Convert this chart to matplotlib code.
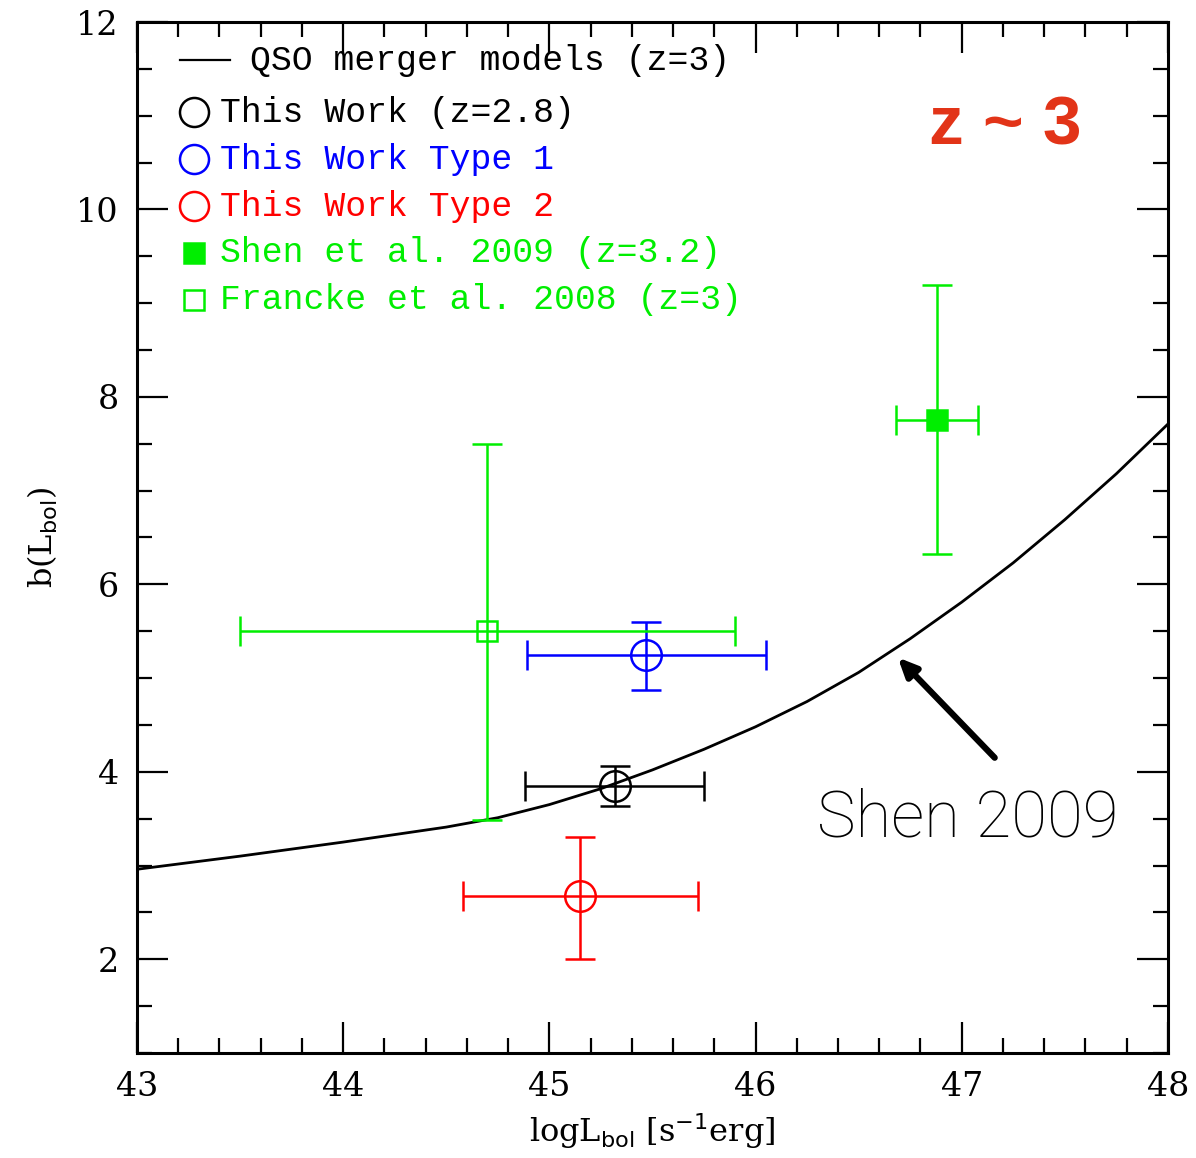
"""
b(L_bol) vs logL_bol at z~3
"""
import matplotlib
matplotlib.use('Agg')
import matplotlib.pyplot as plt
from matplotlib.ticker import MultipleLocator

# 모델 곡선 (QSO merger models, z=3)
model_x = [43.0, 43.5, 44.0, 44.5, 44.75, 45.0, 45.25, 45.5, 45.75,
           46.0, 46.25, 46.5, 46.75, 47.0, 47.25, 47.5, 47.75, 48.0]
model_y = [2.96, 3.10, 3.25, 3.41, 3.51, 3.65, 3.82, 4.02, 4.24,
           4.48, 4.75, 5.06, 5.42, 5.81, 6.23, 6.69, 7.18, 7.71]

# 데이터 포인트: 이름, x, y, x-, x+, y-, y+
names  = ['This Work (z=2.8)', 'This Work Type 1', 'This Work Type 2',
          'Shen et al. 2009 (z=3.2)', 'Francke et al. 2008 (z=3)']
pt_x   = [45.32, 45.47, 45.15, 46.88, 44.70]
pt_y   = [3.85, 5.25, 2.68, 7.75, 5.50]
x_lo   = [44.88, 44.89, 44.58, 46.68, 43.50]
x_hi   = [45.75, 46.05, 45.72, 47.08, 45.90]
y_lo   = [3.63, 4.87, 2.00, 6.32, 3.49]
y_hi   = [4.06, 5.60, 3.30, 9.19, 7.50]

colors  = ['black', '#0000ff', '#ff0000', '#00ee00', '#00ee00']
markers = ['o', 'o', 'o', 's', 's']
msizes  = [22, 22, 22, 14, 15]
filled  = [False, False, False, True, False]

fig = plt.figure(figsize=(11.96, 11.58), dpi=100)
ax = fig.add_axes([0.1145, 0.0907, 0.862, 0.8903])

ax.plot(model_x, model_y, color='black', lw=2, zorder=2)

for i in range(len(names)):
    xerr = [[pt_x[i] - x_lo[i]], [x_hi[i] - pt_x[i]]]
    yerr = [[pt_y[i] - y_lo[i]], [y_hi[i] - pt_y[i]]]
    ax.errorbar([pt_x[i]], [pt_y[i]], xerr=xerr, yerr=yerr,
                fmt=markers[i], ms=msizes[i], mew=1.8,
                mec=colors[i], mfc=colors[i] if filled[i] else 'none',
                ecolor=colors[i], elinewidth=1.8, capsize=11, capthick=1.8,
                zorder=3)

# 축 설정
ax.set_xlim(43, 48)
ax.set_ylim(1, 12)
ax.xaxis.set_major_locator(MultipleLocator(1))
ax.xaxis.set_minor_locator(MultipleLocator(0.2))
ax.yaxis.set_major_locator(MultipleLocator(2))
ax.yaxis.set_minor_locator(MultipleLocator(0.5))
ax.tick_params(which='both', direction='in', top=True, right=True, width=1.6)
ax.tick_params(which='major', length=22, labelsize=24, pad=13)
ax.tick_params(which='minor', length=11)
for lab in ax.get_xticklabels() + ax.get_yticklabels():
    lab.set_family('DejaVu Serif')
for s in ax.spines.values():
    s.set_linewidth(2.2)

ax.set_xlabel(r'logL$_{\rm bol}$ [s$^{-1}$erg]', fontsize=23,
              family='DejaVu Serif', labelpad=6)
ax.set_ylabel(r'b(L$_{\rm bol}$)', fontsize=23, family='DejaVu Serif',
              labelpad=12)

# 범례 (수동)
ax.plot([0.0417, 0.0902], [0.963, 0.963], color='black', lw=1.6,
        transform=ax.transAxes)
ax.text(0.1096, 0.963, 'QSO merger models (z=3)', transform=ax.transAxes,
        va='center', ha='left', fontsize=25, family='Liberation Mono')
leg_y = [0.9127, 0.8671, 0.8215, 0.776, 0.7304]
for i, yy in enumerate(leg_y):
    ax.plot([0.0553], [yy], marker=markers[i], ms=msizes[i] * 0.95 if i < 3 else 14,
            mew=1.8, mec=colors[i], mfc=colors[i] if filled[i] else 'none',
            transform=ax.transAxes, ls='none')
    ax.text(0.0805, yy, names[i], transform=ax.transAxes, va='center',
            ha='left', fontsize=25, family='Liberation Mono', color=colors[i])

ax.text(0.842, 0.899, 'z ~ 3', transform=ax.transAxes, ha='center',
        va='center', fontsize=50, fontweight='bold',
        family='Liberation Sans', color='#e23418')

ax.annotate('', xy=(46.69, 5.22), xytext=(47.16, 4.15),
            arrowprops=dict(arrowstyle='-|>,head_length=1.1,head_width=0.5',
                            lw=4.5, color='black', shrinkA=0, shrinkB=0))
ax.text(47.03, 3.5, 'Shen 2009', ha='center', va='center', fontsize=47,
        family='Roboto', fontweight='light')

fig.savefig('out.png', dpi=100)
